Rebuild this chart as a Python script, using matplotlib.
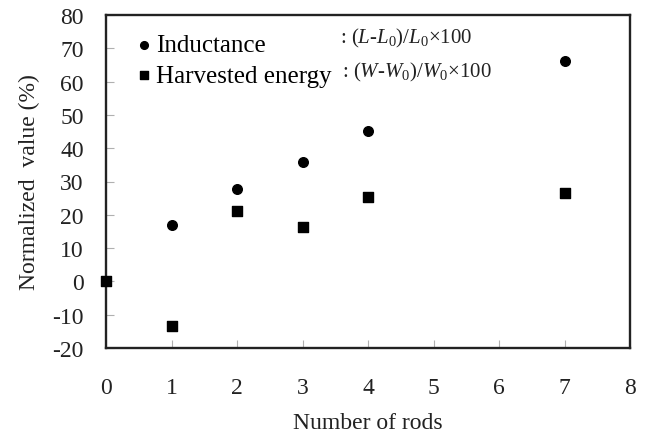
import matplotlib
matplotlib.use("Agg")
import matplotlib.pyplot as plt

plt.rcParams['font.family'] = ['Liberation Serif', 'DejaVu Serif']
plt.rcParams['mathtext.fontset'] = 'custom'
plt.rcParams['mathtext.rm'] = 'Liberation Serif'
plt.rcParams['mathtext.it'] = 'Liberation Serif:italic'
plt.rcParams['axes.unicode_minus'] = False

rods = [0, 1, 2, 3, 4, 7]
inductance = [0, 17, 27.6, 36, 45.3, 66.2]
energy = [0, -13.3, 21, 16.2, 25.2, 26.4]
xticks = [0, 1, 2, 3, 4, 5, 6, 7, 8]
yticks = [-20, -10, 0, 10, 20, 30, 40, 50, 60, 70, 80]

W, H = 648, 435
fig = plt.figure(figsize=(W/100, H/100), dpi=100)
L, R, T, B = 106, 630, 16, 349
ax = fig.add_axes([L/W, 1 - B/H, (R-L)/W, (B-T)/H])

ax.scatter(rods, inductance, marker='o', s=48, color='black', zorder=3, clip_on=False, label='Inductance')
ax.scatter(rods, energy, marker='s', s=48, color='black', zorder=3, clip_on=False, label='Harvested energy')

ax.set_xlim(0, 8)
ax.set_ylim(-20, 80)
ax.set_xticks(xticks)
ax.set_yticks(yticks)
ax.tick_params(direction='in', length=6, width=0.8, color='#b0b0b0', labelsize=17, labelcolor='#222222')
ax.tick_params(axis='y', pad=16)
ax.tick_params(axis='x', pad=21)
for s in ax.spines.values():
    s.set_linewidth(1.7)
    s.set_color('#222222')

ax.set_xlabel('Number of rods', fontsize=17, labelpad=10, color='#222222')
ax.set_ylabel('Normalized  value (%)', fontsize=17, labelpad=9, color='#222222')

leg = ax.legend(loc='upper left', bbox_to_anchor=(0.043, 0.958), frameon=False, fontsize=18,
                handlelength=0.8, handletextpad=0.1, labelspacing=0.32, markerscale=0.8,
                borderpad=0.2, borderaxespad=0)

fig.text(340/W, 1 - 38/H, r': ($L$-$L_0$)/$L_0$×100', fontsize=15, ha='left', va='center',
         color='#222222')
fig.text(342/W, 1 - 72/H, r': ($W$-$W_0$)/$W_0$×100', fontsize=15, ha='left', va='center',
         color='#222222')

fig.savefig('out.png', dpi=100)
